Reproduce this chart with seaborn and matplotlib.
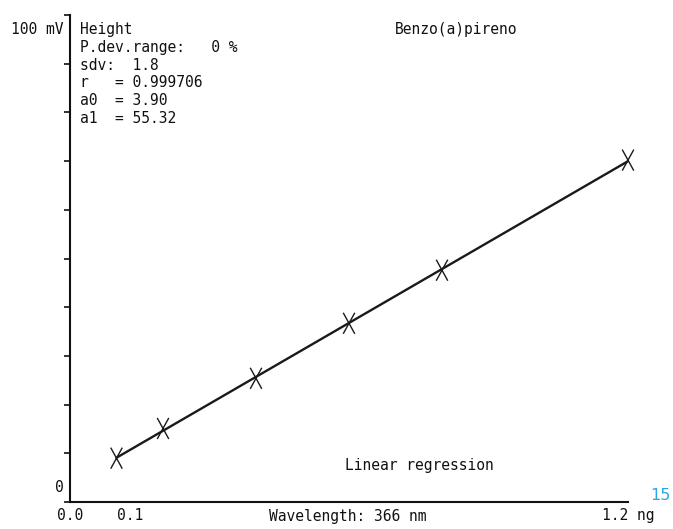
import numpy as np
import pandas as pd
import matplotlib
matplotlib.use("Agg")
import matplotlib.pyplot as plt
from matplotlib.path import Path
import seaborn as sns

# calibration points
amount_ng = [0.1, 0.2, 0.4, 0.6, 0.8, 1.2]
height_mv = [9.0, 15.1, 25.4, 36.7, 47.6, 70.2]

info_lines = ["Height", "P.dev.range:   0 %", "sdv:  1.8", "r   = 0.999706",
              "a0  = 3.90", "a1  = 55.32"]
title_txt = "Benzo(a)pireno"
method_txt = "Linear regression"
wave_txt = "Wavelength: 366 nm"
x_ticks = [0.0, 0.1, 1.2]
x_ticklabels = ["0.0", "0.1", "1.2 ng"]
y_ticks = list(range(0, 101, 10))

df = pd.DataFrame({"x": amount_ng, "y": height_mv})

sns.set_theme(style="white")
plt.rcParams["font.family"] = ["DejaVu Sans Mono"]
mono = dict(fontsize=10.5, color="#111111")

fig = plt.figure(figsize=(6.73, 5.29), dpi=100)
ax = fig.add_axes([70 / 673, 1 - 502 / 529, 558 / 673, 487 / 529])

# tall open "X" marker like the plotter's
xmark = Path([(-0.55, -1), (0.55, 1), (-0.55, 1), (0.55, -1)],
             [Path.MOVETO, Path.LINETO, Path.MOVETO, Path.LINETO])

sns.regplot(data=df, x="x", y="y", ax=ax, ci=None, truncate=True, scatter=False,
            line_kws=dict(color="#1a1a1a", lw=1.7))
sns.scatterplot(data=df, x="x", y="y", ax=ax, marker=xmark, s=230,
                facecolors="none", edgecolor="#1a1a1a", linewidth=1.0,
                zorder=5, clip_on=False)

ax.set_xlim(0, 1.2)
ax.set_ylim(0, 100)
ax.set_xlabel("")
ax.set_ylabel("")

for s in ["top", "right"]:
    ax.spines[s].set_visible(False)
for s in ["left", "bottom"]:
    ax.spines[s].set_color("#111111")
    ax.spines[s].set_linewidth(1.5)

ax.set_yticks(y_ticks)
ax.set_yticklabels([])
ax.tick_params(axis="y", direction="out", length=4, width=1.2, color="#111111", left=True)
ax.set_xticks(x_ticks)
ax.set_xticklabels(x_ticklabels, **mono)
ax.tick_params(axis="x", length=0, pad=4)
ax.get_xticklabels()[1].set_ha("left")

# y labels sit a little below their ticks, as on the original
ax.text(-0.012, 0.97, "100 mV", transform=ax.transAxes, ha="right", va="center", **mono)
ax.text(-0.012, 0.03, "0", transform=ax.transAxes, ha="right", va="center", **mono)

# fit info block
for i, line in enumerate(info_lines):
    ax.text(0.018, 0.97 - i * 0.0365, line, transform=ax.transAxes,
            ha="left", va="center", **mono)

ax.text(0.583, 0.97, title_txt, transform=ax.transAxes, ha="left", va="center", **mono)
ax.text(0.493, 0.075, method_txt, transform=ax.transAxes, ha="left", va="center", **mono)
ax.text(0.497, -0.03, wave_txt, transform=ax.transAxes, ha="center", va="center", **mono)

fig.text(660 / 673, 1 - 496 / 529, "15", color="#29a9e0", fontsize=11.5,
         family="DejaVu Sans", ha="center", va="center")

fig.savefig("out.png", dpi=100)
